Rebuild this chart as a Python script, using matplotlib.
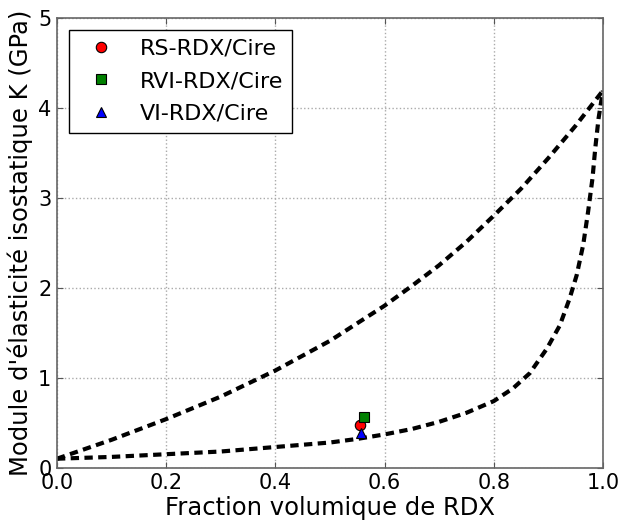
import matplotlib
matplotlib.use("Agg")
import matplotlib.pyplot as plt

# Upper bound curve
upper_x = [0.0, 0.1, 0.2, 0.3, 0.4, 0.5, 0.6, 0.65, 0.7, 0.75, 0.8, 0.85, 0.9, 0.95, 1.0]
upper_y = [0.10, 0.31, 0.54, 0.79, 1.08, 1.41, 1.80, 2.02, 2.25, 2.51, 2.80, 3.10, 3.44, 3.80, 4.19]

# Lower bound curve
lower_x = [0.0, 0.1, 0.2, 0.3, 0.4, 0.5, 0.55, 0.6, 0.65, 0.7, 0.75, 0.8, 0.835, 0.866,
           0.897, 0.921, 0.939, 0.952, 0.964, 0.973, 0.981, 0.986, 0.992, 1.0]
lower_y = [0.10, 0.12, 0.15, 0.18, 0.23, 0.28, 0.32, 0.37, 0.43, 0.51, 0.61, 0.74, 0.88, 1.05,
           1.32, 1.58, 1.88, 2.14, 2.48, 2.85, 3.22, 3.55, 3.88, 4.19]

# Experimental points
labels = ["RS-RDX/Cire", "RVI-RDX/Cire", "VI-RDX/Cire"]
pts_x = [0.555, 0.563, 0.557]
pts_y = [0.475, 0.56, 0.385]
markers = ["o", "s", "^"]
colors = ["red", "green", "blue"]

fig = plt.figure(figsize=(6.19, 5.22), dpi=100)
ax = fig.add_axes([0.092, 0.104, 0.882, 0.862])

ls = (0, (2.0, 1.3))
ax.plot(upper_x, upper_y, color="black", lw=3, linestyle=ls)
ax.plot(lower_x, lower_y, color="black", lw=3, linestyle=ls)

for x, y, m, c, lab in zip(pts_x, pts_y, markers, colors, labels):
    ax.plot([x], [y], linestyle="none", marker=m, color=c, markeredgecolor="black",
            markeredgewidth=0.8, markersize=7.5, label=lab, zorder=5)

ax.set_xlim(0, 1)
ax.set_ylim(0, 5)
ax.set_xticks([0.0, 0.2, 0.4, 0.6, 0.8, 1.0])
ax.set_yticks([0, 1, 2, 3, 4, 5])
ax.set_xticklabels(["0.0", "0.2", "0.4", "0.6", "0.8", "1.0"])
ax.grid(True, color="#aaaaaa", linestyle=":", linewidth=1)
ax.tick_params(direction="in", top=True, right=True, labelsize=15, length=4,
               color="#555555", pad=4)
for s in ax.spines.values():
    s.set_color("#666666")
    s.set_linewidth(1.2)

ax.set_xlabel("Fraction volumique de RDX", fontsize=17.5, labelpad=2)
ax.set_ylabel("Module d'élasticité isostatique K (GPa)", fontsize=17.5, labelpad=4)

leg = ax.legend(loc="upper left", numpoints=1, fontsize=16, fancybox=False,
                edgecolor="black", framealpha=1, borderpad=0.4,
                handletextpad=0.72, handlelength=2.08, labelspacing=0.56,
                borderaxespad=0, bbox_to_anchor=(0.022, 0.973))
leg.get_frame().set_linewidth(1.0)

fig.savefig("out.png", dpi=100)
